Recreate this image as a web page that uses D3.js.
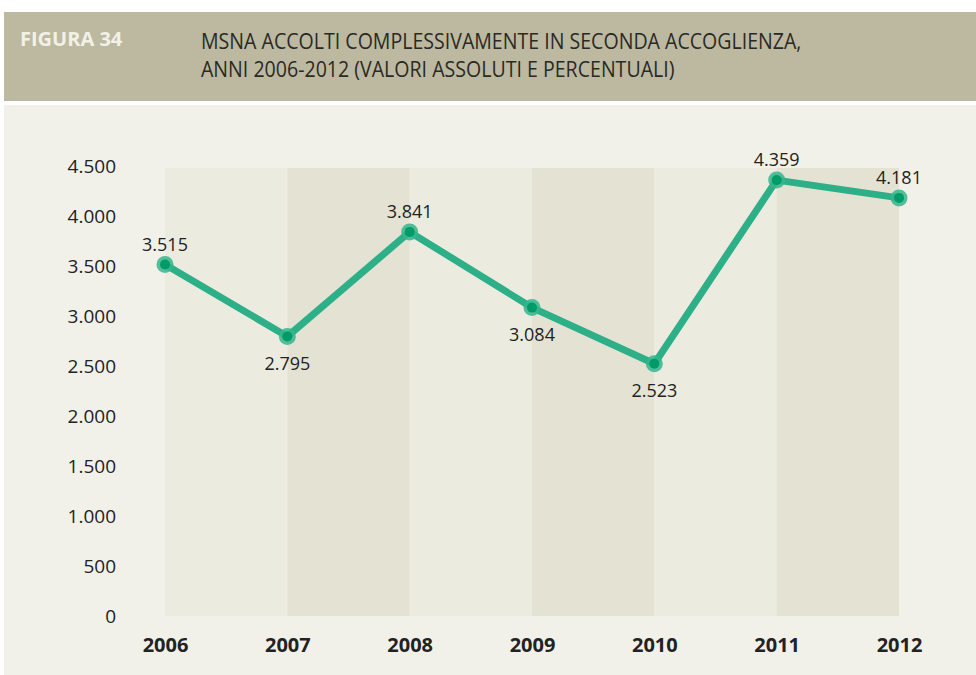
<!DOCTYPE html>
<html>
<head>
<meta charset="utf-8">
<script src="https://cdn.jsdelivr.net/npm/d3@7"></script>
<style>
  body { margin: 0; background: #ffffff; }
  svg { display: block; }
</style>
</head>
<body>
<svg></svg>
<script>
const years = ['2006', '2007', '2008', '2009', '2010', '2011', '2012']
const values = [3515, 2795, 3841, 3084, 2523, 4359, 4181]
const labelAbove = [true, false, true, false, false, true, true]
const yTicks = [0, 500, 1000, 1500, 2000, 2500, 3000, 3500, 4000, 4500]
const titleLines = ['MSNA ACCOLTI COMPLESSIVAMENTE IN SECONDA ACCOGLIENZA,', 'ANNI 2006-2012 (VALORI ASSOLUTI E PERCENTUALI)']

const width = 976
const height = 675
const plotLeft = 165
const plotRight = 899
const plotTop = 166
const plotBottom = 616
const font = '"Open Sans", "Noto Sans", sans-serif'

const fmt = d3.formatLocale({ decimal: ',', thousands: '.', grouping: [3], currency: ['', ''] }).format(',')

const svg = d3.select('svg')
              .attr('width', width)
              .attr('height', height)

// header band
svg.append('rect')
   .attr('x', 4).attr('y', 12)
   .attr('width', width - 4).attr('height', 89)
   .attr('fill', '#bcb9a0')

svg.append('text')
   .text('FIGURA 34')
   .attr('transform', 'translate(20, 46) scale(1.0, 1)')
   .attr('fill', '#f2f1e8')
   .style('font-family', font)
   .style('font-weight', 'bold')
   .style('font-size', '20px')

// condensed look for the title
svg.append('g')
   .attr('transform', 'translate(201, 0) scale(0.89, 1)')
   .selectAll('text')
   .data(titleLines)
   .join('text')
   .text(d => d)
   .attr('x', 0)
   .attr('y', (d, i) => 49 + i * 28)
   .attr('fill', '#2a2a25')
   .style('font-family', font)
   .style('font-size', '22px')

// chart background
svg.append('rect')
   .attr('x', 4).attr('y', 105)
   .attr('width', width - 4).attr('height', height - 105)
   .attr('fill', '#f2f1e9')

const xScale = d3.scalePoint()
                 .domain(years)
                 .range([plotLeft, plotRight])

const yScale = d3.scaleLinear()
                 .domain([0, 4500])
                 .range([plotBottom, plotTop])

// alternating column bands between years
svg.append('g')
   .selectAll('rect')
   .data(years.slice(0, -1))
   .join('rect')
   .attr('x', d => xScale(d))
   .attr('y', yScale(4500) + 2)
   .attr('width', xScale.step())
   .attr('height', yScale(0) - yScale(4500) - 2)
   .attr('fill', (d, i) => i % 2 === 0 ? '#ecebdf' : '#e4e3d3')

const yAxis = d3.axisLeft(yScale)
                .tickValues(yTicks)
                .tickFormat(fmt)
                .tickSize(0)
                .tickPadding(0)

svg.append('g')
   .attr('transform', `translate(116, 0)`)
   .call(yAxis)
   .call(g => g.select('.domain').remove())
   .selectAll('text')
   .attr('fill', '#222')
   .attr('dy', '0.35em')
   .style('font-family', font)
   .style('font-size', '19px')

const xAxis = d3.axisBottom(xScale).tickSize(0).tickPadding(0)

svg.append('g')
   .attr('transform', `translate(0, 645)`)
   .call(xAxis)
   .call(g => g.select('.domain').remove())
   .selectAll('text')
   .attr('y', 0)
   .attr('dy', '0.35em')
   .attr('fill', '#222')
   .style('font-family', font)
   .style('font-weight', 'bold')
   .style('font-size', '20px')

const points = years.map((y, i) => ({ year: y, value: values[i], above: labelAbove[i] }))

const line = d3.line()
               .x(d => xScale(d.year))
               .y(d => yScale(d.value))

svg.append('path')
   .datum(points)
   .attr('d', line)
   .attr('fill', 'none')
   .attr('stroke', '#2daf88')
   .attr('stroke-width', 7)
   .attr('stroke-linejoin', 'round')

const dots = svg.append('g')
                .selectAll('g')
                .data(points)
                .join('g')
                .attr('transform', d => `translate(${xScale(d.year)}, ${yScale(d.value)})`)

dots.append('circle')
    .attr('r', 8.5)
    .attr('fill', '#35b58e')
    .attr('opacity', 0.85)

dots.append('circle')
    .attr('r', 5)
    .attr('fill', '#009b66')

svg.append('g')
   .selectAll('text')
   .data(points)
   .join('text')
   .text(d => fmt(d.value))
   .attr('x', d => xScale(d.year))
   .attr('y', d => yScale(d.value) + (d.above ? -14 : 33))
   .attr('text-anchor', 'middle')
   .attr('fill', '#222')
   .style('font-family', font)
   .style('font-size', '18px')
</script>
</body>
</html>
